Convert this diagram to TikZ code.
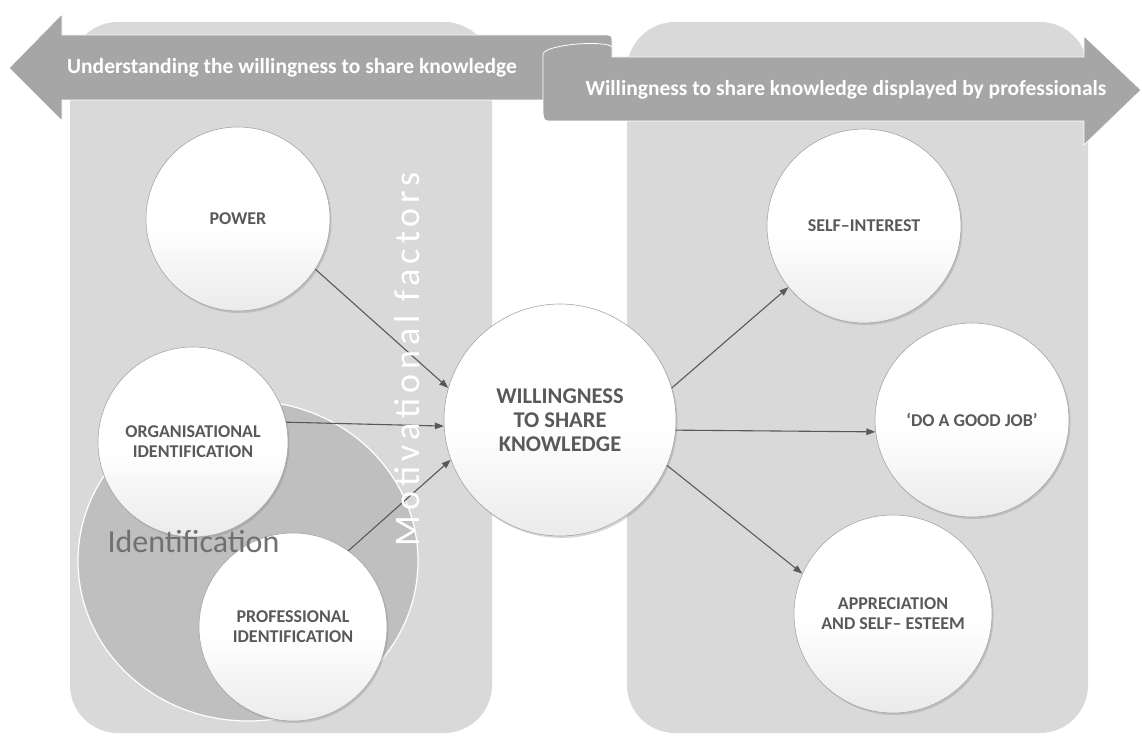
\documentclass[tikz,border=0pt]{standalone}
\usepackage{fontspec}
\setmainfont{Carlito}
\newfontfamily\spacedfont[LetterSpace=14]{Carlito}
\usetikzlibrary{arrows.meta, shadows}
\definecolor{PanelGrey}{RGB}{217,217,217}
\definecolor{BannerGrey}{RGB}{166,166,166}
\definecolor{SetGrey}{RGB}{191,191,191}
\definecolor{InkGrey}{RGB}{89,89,89}
\definecolor{SetText}{RGB}{112,112,112}
\pgfdeclareverticalshading{bubbleshade}{100bp}{color(0bp)=(black!14);
  color(22bp)=(black!9); color(48bp)=(white); color(100bp)=(white)}

\begin{document}
\begin{tikzpicture}[x=1pt,y=-1pt,
        panel/.style={fill=PanelGrey,rounded corners=48pt},
        banner/.style={fill=BannerGrey,draw=white,line width=0.8pt},
        bannertext/.style={text=white,font=\bfseries\fontsize{21.5}{24}\selectfont},
        bubble/.style={circle,inner sep=0pt,draw=gray!70,line width=0.6pt,
                       shading=bubbleshade,align=center,text=InkGrey,
                       font=\bfseries\fontsize{18}{20}\selectfont,
                       drop shadow={shadow xshift=1.5pt,shadow yshift=-2pt,opacity=0.3}},
        link/.style={draw=InkGrey,line width=1.1pt,-{Triangle[length=9pt,width=6.5pt]}}
      ]
        \useasboundingbox (0,0) rectangle (1142,738);
        \fill[white] (0,0) rectangle (1142,738);
        \path[panel] (70,22) rectangle (492,733);
        \path[panel] (627,22) rectangle (1088,733);
        % left banner, rolled under the right one
        \path[banner] (62,100) -- (612,100) -- (612,43) .. controls (612,35) .. (604,35)
          -- (62,35) -- (62,14) -- (9,68) -- (62,121) -- cycle;
        \path[banner] (543,54) .. controls (546,44) and (606,40) .. (612,47)
          -- (612,57) -- (1084,57) -- (1084,36) -- (1141,90) -- (1084,145)
          -- (1084,121) -- (552,121) .. controls (544,121) .. (543,113) -- cycle;
        \node[bannertext] (understand) at (292,68)
          {Understanding the willingness to share knowledge};
        \node[bannertext] (displayed) at (846,90)
          {Willingness to share knowledge displayed by professionals};
        % identification set
        \path[fill=SetGrey,draw=white,line width=1.2pt] (248,561)
          ellipse [x radius=170pt,y radius=160pt];
        \node[bubble,minimum size=184pt] (power) at (238,219) {POWER};
        \node[bubble,minimum size=190pt] (orgid) at (193,442)
          {ORGANISATIONAL\\IDENTIFICATION};
        \node[bubble,minimum size=188pt] (profid) at (293,627)
          {PROFESSIONAL\\IDENTIFICATION};
        \node[bubble,minimum size=232pt,font=\bfseries\fontsize{22.5}{24}\selectfont]
          (share) at (560,420) {WILLINGNESS\\TO SHARE\\KNOWLEDGE};
        \node[bubble,minimum size=194pt] (selfint) at (864,226) {SELF–INTEREST};
        \node[bubble,minimum size=194pt] (goodjob) at (972,420) {‘DO A GOOD JOB’};
        \node[bubble,minimum size=198pt] (apprec) at (893,614)
          {APPRECIATION\\AND SELF– ESTEEM};
        \draw[link] (power.-33) -- (share.164);
        \draw[link] (orgid.12) -- (share.183);
        \draw[link] (profid.54) -- (share.200);
        \draw[link] (share.16) -- (selfint.219);
        \draw[link] (share.-5) -- (goodjob.187);
        \draw[link] (share.-23) -- (apprec.156);
        \node[anchor=west,text=SetText,font=\fontsize{32}{34}\selectfont]
          (setlabel) at (104,542) {Identification};
        \node[rotate=90,text=white,font=\spacedfont\fontsize{36}{38}\selectfont]
          (motive) at (407,359) {Motivational factors};
      \end{tikzpicture}
\end{document}
